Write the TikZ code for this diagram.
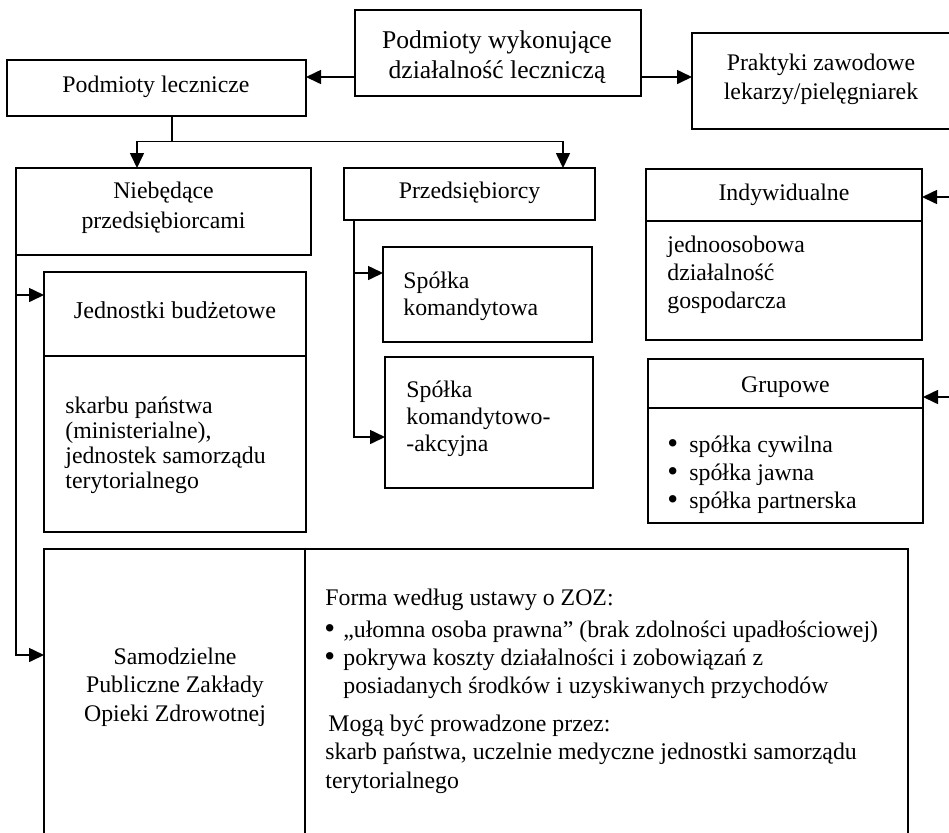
\documentclass[tikz,border=0pt]{standalone}
\usepackage{fontspec}
\setmainfont{Liberation Serif}
\usetikzlibrary{arrows.meta,fit}
\newcommand{\bulmark}[1]{\makebox[#1][l]{\smash{\raisebox{-0.6pt}{\scalebox{1.3}{\textbullet}}}}}
\begin{document}
\begin{tikzpicture}[x=0.5pt,y=-0.5pt,
  box/.style={draw, line width=0.8pt, inner sep=0pt, outer sep=0pt},
  txt/.style={inner sep=0pt, font=\fontsize{11.9}{14}\selectfont, align=center},
  fs/.style={font=\fontsize{11.9}{#1}\selectfont},
  ltxt/.style={align=left, anchor=west},
  conn/.style={line width=0.8pt},
  arr/.style={line width=0.8pt, -{Triangle[length=7.5pt,width=7pt]}}]
\useasboundingbox (0,0) rectangle (949,832);
\clip (0,0) rectangle (949,832);

% helper coordinates
\coordinate (y77) at (0,77);
\coordinate (split) at (172,141.5);
\coordinate (xn) at (137,0);
\coordinate (xp) at (563,0);
\coordinate (xv) at (354,0);
\coordinate (y221) at (0,221);
\coordinate (y408) at (0,408);
\coordinate (y356) at (0,356);
\coordinate (y295) at (0,295);
\coordinate (y655) at (0,655);
\coordinate (y273) at (0,273);
\coordinate (y437) at (0,437);
\coordinate (e1) at (949,197);
\coordinate (e2) at (949,397);

% boxes
\node[box, fit={(355,10) (641,96)}] (ctr) {};
\node[txt, font=\fontsize{12.8}{15}\selectfont] (ctrt) at (497,57) {Podmioty wykonujące\\działalność leczniczą};
\node[box, fit={(7,60) (306,116)}] (lec) {};
\node[txt] (lect) at (156,87) {Podmioty lecznicze};
\node[box, fit={(692,33) (952,129)}] (prak) {};
\node[txt, fs=14.5pt] (prakt) at (821,79.5) {Praktyki zawodowe\\lekarzy/pielęgniarek};
\node[box, fit={(16,168) (311,255)}] (nieb) {};
\node[txt, fs=15pt] (niebt) at (163.5,208) {Niebędące\\przedsiębiorcami};
\node[box, fit={(344,168) (595,220)}] (przed) {};
\node[txt] (przedt) at (469.5,193) {Przedsiębiorcy};
\node[box, fit={(383,247) (592,342)}] (sk) {};
\node[txt, ltxt, fs=13.5pt] (skt) at (403,296.5) {Spółka\\komandytowa};
\node[box, fit={(385,357) (593,488)}] (ska) {};
\node[txt, ltxt, fs=13.5pt] (skat) at (406,419) {Spółka\\komandytowo-\\-akcyjna};
\node[box, fit={(646,169) (922,340)}] (ind) {};
\draw[conn] (ind.west |- y221) -- (ind.east |- y221);
\node[txt] (indt) at (784,195) {Indywidualne};
\node[txt, ltxt, fs=14pt] (indb) at (667,275) {jednoosobowa\\działalność\\gospodarcza};
\node[box, fit={(648,359) (923,523)}] (grp) {};
\draw[conn] (grp.west |- y408) -- (grp.east |- y408);
\node[txt] (grpt) at (785.5,387) {Grupowe};
\node[txt, ltxt, fs=14pt] (grpb) at (667,475) {\bulmark{11pt}spółka cywilna\\\bulmark{11pt}spółka jawna\\\bulmark{11pt}spółka partnerska};
\node[box, fit={(44,272) (306,532)}] (jb) {};
\draw[conn] (jb.west |- y356) -- (jb.east |- y356);
\node[txt, font=\fontsize{12.1}{14}\selectfont] (jbt) at (175,310) {Jednostki budżetowe};
\node[txt, ltxt, fs=12.5pt] (jbb) at (65,445) {skarbu państwa\\(ministerialne),\\jednostek samorządu\\terytorialnego};
\node[box, fit={(44,549) (305,900)}] (spz) {};
\node[txt, fs=14.25pt] (spzt) at (175,687) {Samodzielne\\Publiczne Zakłady\\Opieki Zdrowotnej};
\node[box, fit={(305,549) (908,900)}] (ust) {};
\node[txt, ltxt] (ust1) at (325,600) {Forma według ustawy o ZOZ:};
\node[txt, ltxt, fs=14pt] (ust2) at (324,660) {\bulmark{9.5pt}„ułomna osoba prawna” (brak zdolności upadłościowej)\\\bulmark{9.5pt}pokrywa koszty działalności i zobowiązań z\\\hspace*{9.5pt}posiadanych środków i uzyskiwanych przychodów};
\node[txt, ltxt, fs=14.25pt] (ust3) at (325,754) {\hspace*{1.5pt}Mogą być prowadzone przez:\\skarb państwa, uczelnie medyczne jednostki samorządu\\terytorialnego};

% connectors
\draw[arr] (ctr.west |- y77) -- (lec.east |- y77);
\draw[arr] (ctr.east |- y77) -- (prak.west |- y77);
\draw[conn] (lec.south -| split) -- (split);
\draw[arr] (split) -| (nieb.north -| xn);
\draw[arr] (split) -| (przed.north -| xp);
\draw[arr] (nieb.south west) |- (spz.west |- y655);
\draw[arr] (nieb.south west |- y295) -- (jb.west |- y295);
\draw[arr] (przed.south -| xv) |- (sk.west |- y273);
\draw[arr] (przed.south -| xv) |- (ska.west |- y437);
\draw[arr] (e1) -- (ind.east |- e1);
\draw[arr] (e2) -- (grp.east |- e2);
\end{tikzpicture}
\end{document}
